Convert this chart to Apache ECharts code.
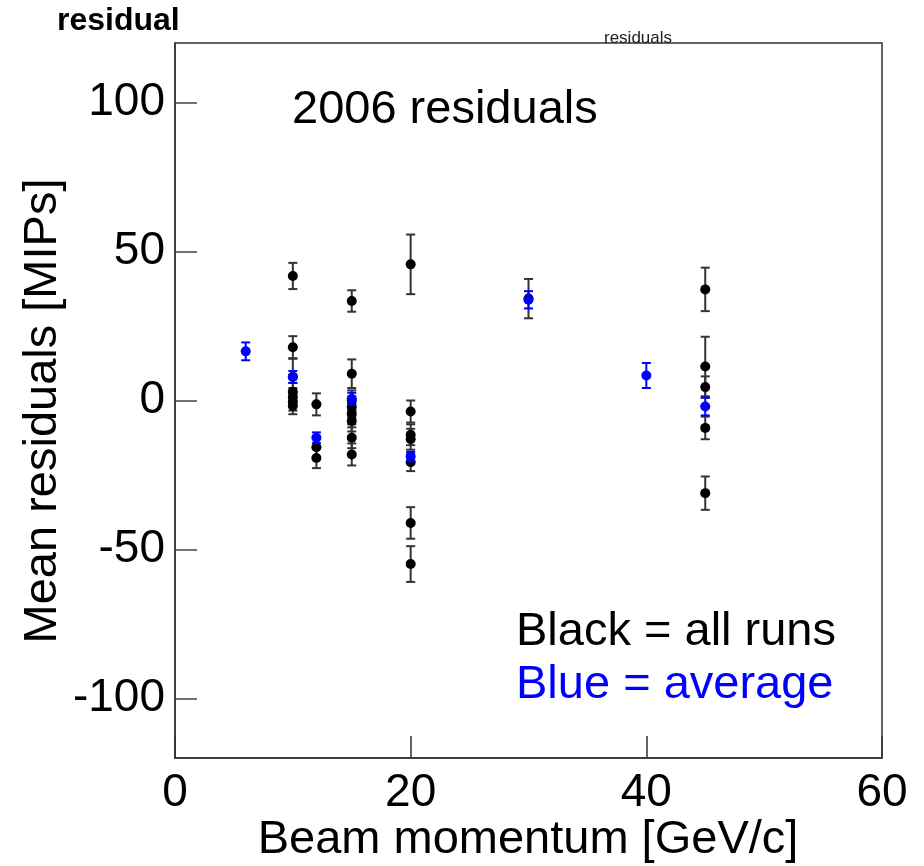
<!DOCTYPE html>
<html>
<head>
<meta charset="utf-8">
<script src="https://cdn.jsdelivr.net/npm/echarts@6/dist/echarts.min.js"></script>
<style>
html,body{margin:0;padding:0;background:#fff;}
#chart{width:924px;height:866px;}
</style>
</head>
<body>
<div id="chart"></div>
<script>
// Black = all runs
const blackX   = [10, 10, 10, 10, 10, 10, 10, 12, 12, 12, 15, 15, 15, 15, 15, 15, 15, 15, 20, 20, 20, 20, 20, 20, 20, 30, 45, 45, 45, 45, 45];
const blackY   = [41.8, 17.9, 8.0, 2.9, 1.2, -0.4, -1.8, -1.3, -15.7, -19.3, 33.4, 9.0, 0.0, -2.2, -4.5, -6.9, -12.5, -18.1, 45.7, -3.7, -11.5, -13.0, -20.7, -41.1, -54.9, 34.2, 37.3, 11.4, 4.5, -9.2, -31.1];
const blackErr = [4.4, 3.7, 6.0, 3.0, 3.0, 3.0, 2.8, 3.7, 3.4, 3.4, 3.6, 4.8, 3.4, 3.5, 3.5, 3.5, 3.5, 3.7, 10.0, 3.7, 3.5, 3.5, 3.0, 5.3, 6.0, 6.6, 7.3, 10.0, 3.6, 3.8, 5.6];
// Blue = average
const blueX   = [6, 10, 12, 15, 20, 30, 40, 45];
const blueY   = [16.5, 7.9, -12.5, 0.6, -18.8, 33.8, 8.4, -2.0];
const blueErr = [3.0, 2.0, 1.8, 2.0, 1.6, 2.9, 4.2, 3.0];

const xTicks = [0, 20, 40, 60];
const yTicks = [-100, -50, 0, 50, 100];

function zip(xs, ys, es) { return xs.map((x, i) => [x, ys[i], es[i]]); }

function errorBar(color) {
  return function (params, api) {
    const x = api.value(0), y = api.value(1), e = api.value(2);
    const top = api.coord([x, y + e]);
    const bot = api.coord([x, y - e]);
    const hw = 4.5;
    const style = { stroke: color, lineWidth: 2, fill: null };
    return {
      type: 'group',
      children: [
        { type: 'line', shape: { x1: top[0], y1: top[1], x2: bot[0], y2: bot[1] }, style: style },
        { type: 'line', shape: { x1: top[0] - hw, y1: top[1], x2: top[0] + hw, y2: top[1] }, style: style },
        { type: 'line', shape: { x1: bot[0] - hw, y1: bot[1], x2: bot[0] + hw, y2: bot[1] }, style: style }
      ]
    };
  };
}

const regular = "'Liberation Sans', Arial, Helvetica, sans-serif";

const chart = echarts.init(document.getElementById('chart'), null, { renderer: 'canvas' });
chart.setOption({
  animation: false,
  backgroundColor: '#fff',
  grid: { left: 175, right: 42, top: 43, bottom: 108, show: true, borderColor: '#333', borderWidth: 1.5, backgroundColor: 'transparent' },
  xAxis: {
    type: 'value', min: 0, max: 60,
    splitLine: { show: false },
    axisLine: { show: true, onZero: false, lineStyle: { color: '#333', width: 1.5 } },
    axisTick: { show: true, inside: true, length: 22, customValues: xTicks, lineStyle: { color: '#333', width: 1.5 } },
    axisLabel: { customValues: xTicks, margin: 12, color: '#000', fontSize: 46, fontFamily: regular }
  },
  yAxis: {
    type: 'value', min: -120, max: 120,
    splitLine: { show: false },
    axisLine: { show: true, onZero: false, lineStyle: { color: '#333', width: 1.5 } },
    axisTick: { show: true, inside: true, length: 22, customValues: yTicks, lineStyle: { color: '#444', width: 1.5 } },
    axisLabel: { customValues: yTicks, margin: 10, color: '#000', fontSize: 46, fontFamily: regular, padding: [8, 0, 0, 0] }
  },
  series: [
    { type: 'custom', renderItem: errorBar('#333'), data: zip(blackX, blackY, blackErr), z: 2 },
    { type: 'scatter', data: zip(blackX, blackY, blackErr), symbol: 'circle', symbolSize: 10, itemStyle: { color: '#000', opacity: 1 }, z: 3 },
    { type: 'custom', renderItem: errorBar('#0000ff'), data: zip(blueX, blueY, blueErr), z: 4 },
    { type: 'scatter', data: zip(blueX, blueY, blueErr), symbol: 'circle', symbolSize: 10, itemStyle: { color: '#0000ff', opacity: 1 }, z: 5 }
  ],
  graphic: [
    { type: 'text', left: 57, top: 5, style: { text: 'residual', fill: '#000', font: "bold 32px " + regular } },
    { type: 'text', x: 638, y: 30, style: { text: 'residuals', fill: '#222', font: "17px " + regular, textAlign: 'center' }, z: 10 },
    { type: 'text', x: 292, y: 110, style: { text: '2006 residuals', fill: '#000', font: "47px " + regular, textVerticalAlign: 'middle' } },
    { type: 'text', x: 516, y: 632, style: { text: 'Black = all runs', fill: '#000', font: "47px " + regular, textVerticalAlign: 'middle' } },
    { type: 'text', x: 516, y: 685, style: { text: 'Blue = average', fill: '#0000ff', font: "47px " + regular, textVerticalAlign: 'middle' } },
    { type: 'text', x: 528, y: 840, style: { text: 'Beam momentum [GeV/c]', fill: '#000', font: "47px " + regular, textAlign: 'center', textVerticalAlign: 'middle' } },
    { type: 'text', x: 43, y: 411, rotation: Math.PI / 2, style: { text: 'Mean residuals [MIPs]', fill: '#000', font: "47px " + regular, textAlign: 'center', textVerticalAlign: 'middle' } }
  ]
});
</script>
</body>
</html>
